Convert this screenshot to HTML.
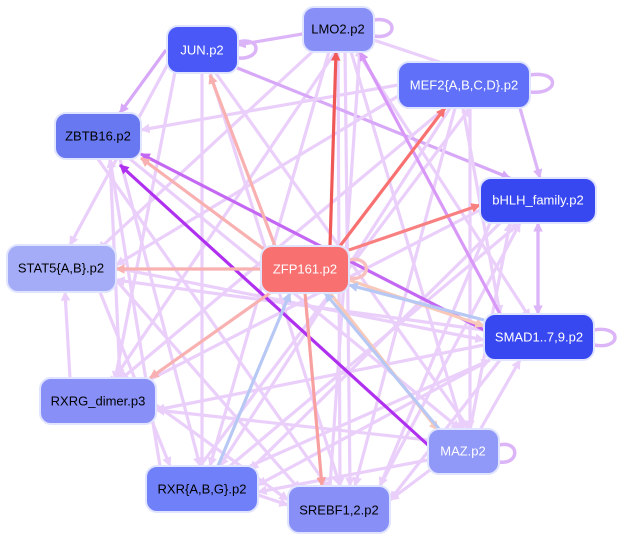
<!DOCTYPE html>
<html><head><meta charset="utf-8"><style>
html,body{margin:0;padding:0;background:#fff;width:625px;height:541px;overflow:hidden}
svg{display:block}
text{font-family:"Liberation Sans",sans-serif;font-size:13px;text-anchor:middle;dominant-baseline:central}
</style></head><body>
<svg width="625" height="541" viewBox="0 0 625 541">
<defs>
<marker id="a" viewBox="0 0 10 10" refX="9" refY="5" markerWidth="3" markerHeight="3" orient="auto"><path d="M0,0L10,5L0,10z" fill="context-stroke"/></marker>
</defs>
<g fill="none" stroke-width="3.2" marker-end="url(#a)" stroke="#eacffb">
<line x1="338" y1="28" x2="463" y2="70"/>
<line x1="338" y1="28" x2="237" y2="45" stroke="#dcb4f8"/>
<line x1="338" y1="28" x2="98" y2="250"/>
<line x1="338" y1="48" x2="110" y2="385"/>
<line x1="338" y1="48" x2="340" y2="486"/>
<line x1="345" y1="48" x2="350" y2="486"/>
<line x1="350" y1="48" x2="463" y2="430"/>
<line x1="355" y1="48" x2="530" y2="318"/>
<line x1="330" y1="48" x2="210" y2="466"/>
<line x1="202" y1="72" x2="202" y2="466"/>
<line x1="210" y1="72" x2="340" y2="486" />
<line x1="215" y1="72" x2="470" y2="430"/>
<line x1="230" y1="65" x2="510" y2="178" stroke="#d8a8f8"/>
<line x1="175" y1="72" x2="115" y2="380"/>
<line x1="170" y1="60" x2="70" y2="245"/>
<line x1="166" y1="50" x2="120" y2="113" stroke="#d8a8f8"/>
<line x1="463" y1="108" x2="500" y2="314"/>
<line x1="470" y1="108" x2="470" y2="429"/>
<line x1="455" y1="108" x2="355" y2="486"/>
<line x1="450" y1="108" x2="220" y2="466"/>
<line x1="445" y1="108" x2="120" y2="380"/>
<line x1="400" y1="95" x2="116" y2="265"/>
<line x1="398" y1="85" x2="141" y2="130"/>
<line x1="520" y1="108" x2="540" y2="178" stroke="#dcb4f8"/>
<line x1="538" y1="223" x2="538" y2="314" stroke="#dcb4f8"/>
<line x1="538" y1="314" x2="538" y2="223" stroke="#dcb4f8"/>
<line x1="480" y1="210" x2="120" y2="395"/>
<line x1="490" y1="223" x2="380" y2="486"/>
<line x1="500" y1="223" x2="250" y2="470"/>
<line x1="484" y1="330" x2="116" y2="280"/>
<line x1="484" y1="345" x2="156" y2="410"/>
<line x1="500" y1="360" x2="390" y2="500"/>
<line x1="490" y1="360" x2="258" y2="485"/>
<line x1="120" y1="159" x2="200" y2="466"/>
<line x1="110" y1="159" x2="120" y2="378"/>
<line x1="130" y1="159" x2="460" y2="429"/>
<line x1="98" y1="159" x2="330" y2="490"/>
<line x1="116" y1="280" x2="300" y2="490"/>
<line x1="100" y1="292" x2="170" y2="466"/>
<line x1="116" y1="268" x2="484" y2="340"/>
<line x1="156" y1="405" x2="288" y2="500"/>
<line x1="70" y1="378" x2="65" y2="292"/>
<line x1="258" y1="495" x2="288" y2="505"/>
<line x1="428" y1="440" x2="156" y2="410"/>
<line x1="428" y1="460" x2="258" y2="492"/>
<line x1="430" y1="470" x2="390" y2="500"/>
<line x1="470" y1="430" x2="510" y2="223"/>
<line x1="480" y1="430" x2="520" y2="360"/>
<line x1="200" y1="466" x2="470" y2="108"/>
<line x1="230" y1="466" x2="520" y2="223"/>
<line x1="250" y1="466" x2="490" y2="360"/>
<line x1="160" y1="466" x2="110" y2="159"/>
<line x1="330" y1="486" x2="360" y2="48"/>
<line x1="380" y1="486" x2="520" y2="223"/>
<line x1="484" y1="330" x2="141" y2="154" stroke="#c468f4"/>
<line x1="428" y1="445" x2="120" y2="165" stroke="#b030f0"/>
<line x1="500" y1="314" x2="360" y2="52" stroke="#d898f8"/>
<line x1="330" y1="246" x2="336" y2="52" stroke="#f05858"/>
<line x1="340" y1="246" x2="445" y2="108" stroke="#f87070"/>
<line x1="349" y1="250" x2="480" y2="205" stroke="#f88080"/>
<line x1="275" y1="246" x2="210" y2="75" stroke="#f8b0b0"/>
<line x1="265" y1="250" x2="141" y2="158" stroke="#f8b0b0"/>
<line x1="261" y1="269" x2="116" y2="269" stroke="#f8b0b0"/>
<line x1="270" y1="293" x2="150" y2="378" stroke="#f8b0b0"/>
<line x1="305" y1="293" x2="322" y2="486" stroke="#f8a0a0"/>
<line x1="330" y1="293" x2="438" y2="430" stroke="#f8c8b8"/>
<line x1="349" y1="280" x2="484" y2="326" stroke="#f8c8b8"/>
<line x1="218" y1="466" x2="290" y2="293" stroke="#b8c8f4"/>
<line x1="440" y1="430" x2="325" y2="293" stroke="#b8c8f4"/>
<line x1="484" y1="320" x2="349" y2="285" stroke="#b8c8f4"/>
</g>
<g fill="none" stroke-width="3.5" stroke="#dcb4f8">
<path d="M238,42 C262,36 262,60 238,58"/>
<path d="M374,20 C398,16 398,40 374,36"/>
<path d="M530,75 C560,70 560,95 530,92"/>
<path d="M594,330 C622,325 622,350 594,345"/>
<path d="M499,445 C520,440 520,465 499,462"/>
<path d="M349,260 C372,255 372,282 349,278" stroke="#f8c0c0"/>
</g>
<g stroke="#e0e4ff" stroke-width="2">
<rect x="167" y="26" width="71" height="47" rx="11" fill="#4a58f8"/>
<rect x="303" y="7" width="71" height="45" rx="11" fill="#8890f8"/>
<rect x="398" y="62" width="132" height="46" rx="11" fill="#6070f8"/>
<rect x="55" y="113" width="86" height="46" rx="11" fill="#6878f0"/>
<rect x="480" y="178" width="116" height="45" rx="11" fill="#3848f0"/>
<rect x="7" y="245" width="109" height="47" rx="11" fill="#a4acf8"/>
<rect x="261" y="246" width="88" height="47" rx="11" fill="#f87070"/>
<rect x="484" y="314" width="110" height="46" rx="11" fill="#3848f0"/>
<rect x="40" y="378" width="116" height="46" rx="11" fill="#8890f8"/>
<rect x="428" y="429" width="71" height="45" rx="11" fill="#9098f8"/>
<rect x="146" y="466" width="112" height="46" rx="11" fill="#7080f8"/>
<rect x="288" y="486" width="102" height="47" rx="11" fill="#8890f8"/>
</g>
<text x="202" y="50" fill="#fff">JUN.p2</text>
<text x="338" y="29" fill="#000">LMO2.p2</text>
<text x="464" y="85" fill="#fff">MEF2{A,B,C,D}.p2</text>
<text x="98" y="136" fill="#000">ZBTB16.p2</text>
<text x="538" y="200" fill="#fff">bHLH_family.p2</text>
<text x="61" y="268" fill="#000">STAT5{A,B}.p2</text>
<text x="305" y="269" fill="#fff">ZFP161.p2</text>
<text x="539" y="337" fill="#fff">SMAD1..7,9.p2</text>
<text x="98" y="401" fill="#000">RXRG_dimer.p3</text>
<text x="463" y="451" fill="#fff">MAZ.p2</text>
<text x="202" y="489" fill="#000">RXR{A,B,G}.p2</text>
<text x="339" y="510" fill="#000">SREBF1,2.p2</text>
</svg>
</body></html>
